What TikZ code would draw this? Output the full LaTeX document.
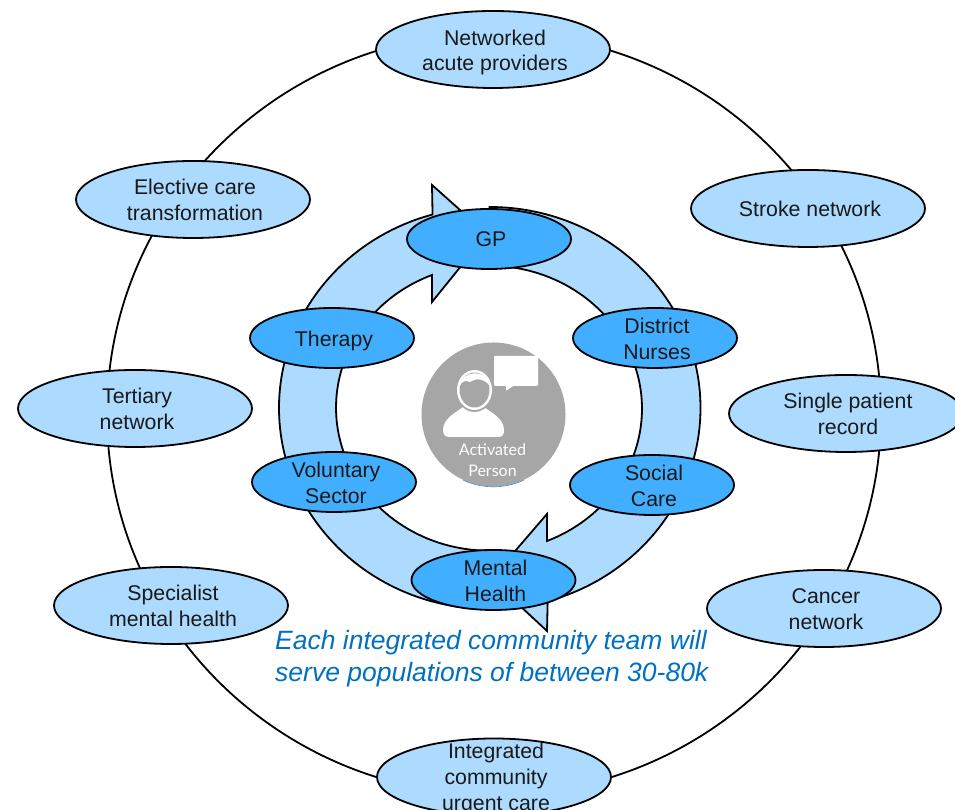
\documentclass[tikz,border=0pt]{standalone}
\usepackage{fontspec}
\setmainfont{Liberation Sans}
\newfontfamily\personfont{Lato}
\usetikzlibrary{shapes.geometric}
\definecolor{lightb}{HTML}{ADDBFF}
\definecolor{darkb}{HTML}{42AEFF}
\definecolor{greyc}{HTML}{A6A6A6}
\definecolor{capt}{HTML}{0070C0}
\tikzset{
  lab/.style={font=\fontsize{21.3}{25.7}\selectfont,align=center,text=black!90},
  outeroval/.style={ellipse,draw=black,fill=lightb,line width=1.8pt,minimum width=234pt,minimum height=77pt,inner sep=0pt},
  inneroval/.style={ellipse,draw=black,fill=darkb,line width=1.8pt,minimum width=164pt,minimum height=60pt,inner sep=0pt},
  says/.style={label={[lab,xshift=2pt,yshift=-0.7pt]center:{#1}}},
  saysdown/.style 2 args={label={[lab,xshift=2pt,yshift=#1]center:{#2}}},
  ringarrow/.style={draw=black,fill=lightb,line width=1.8pt,line join=miter},
  capttext/.style={font=\fontsize{26.5}{32}\selectfont\itshape,text=capt,align=left,anchor=west,inner sep=0pt}
}
\begin{document}
\begin{tikzpicture}[x=1pt,y=1pt]
\useasboundingbox (0,0) rectangle (955,810);
\clip (0,0) rectangle (955,810);
\fill[white] (0,0) rectangle (955,810);
% outer ring
\draw[black,line width=1.8pt] (494,396) ellipse [x radius=387,y radius=381];
% ring arrows
\draw[ringarrow] (489.5,201) arc[start angle=270,end angle=105.7,x radius=210.5,y radius=201]
  -- (432,625) -- (487,576) -- (432,508) -- (432,535)
  arc[start angle=111.9,end angle=270,x radius=153,y radius=143] -- cycle;
\draw[ringarrow] (489.5,603) arc[start angle=90,end angle=-74,x radius=211,y radius=201]
  -- (547,179) -- (491,231) -- (547,296) -- (547,269)
  arc[start angle=-67.7,end angle=90,x radius=153,y radius=143] -- cycle;
% centre
\fill[greyc] (493.5,395.5) circle[radius=72];
\draw[darkb!80!black,line width=0.6pt] (493.5,395.5) ++(245:72.3) arc[start angle=245,end angle=295,radius=72.3];
\fill[white,rounded corners=1pt] (494,424) -- (506,424) -- (506,419) -- (513,424) -- (538,424) -- (538,454) -- (494,454) -- cycle;
\fill[white] (449,373) -- (498,373) .. controls (503,373) and (504,376) .. (504,380) .. controls (504,392) and (490,398) .. (484,403) -- (463,403) .. controls (457,398) and (443,392) .. (443,380) .. controls (443,376) and (445,373) .. (449,373) -- cycle;
\fill[greyc] (474.5,420) ellipse[x radius=19,y radius=22];
\fill[white] (474.5,420) ellipse[x radius=17.5,y radius=20];
\fill[greyc] (474.5,420) ellipse[x radius=15,y radius=17.5];
\fill[white] (459.5,424) .. controls (462,440) and (487,442) .. (490,424) .. controls (484,432) and (475,432) .. (470,428) .. controls (466,430) and (462,429) .. (459.5,424) -- cycle;
\node[font=\fontsize{16}{21}\selectfont\personfont,text=white,align=center,inner sep=0pt] (person) at (492.5,350) {Activated\\Person};
% inner ovals
\node[inneroval,saysdown={0.3pt}{GP}] (gp) at (489,571) {};
\node[inneroval,saysdown={-2.7pt}{Therapy}] (therapy) at (332,472) {};
\node[inneroval,says={District\\Nurses}] (district) at (655,472) {};
\node[inneroval,says={Voluntary\\Sector}] (voluntary) at (334,328) {};
\node[inneroval,says={Social\\Care}] (social) at (652,325) {};
\node[inneroval,says={Mental\\Health}] (mental) at (493.5,230) {};
% outer ovals
\node[outeroval,saysdown={-3pt}{Networked\\acute providers}] (net) at (493,760.5) {};
\node[outeroval,says={Stroke network}] (stroke) at (808,601.5) {};
\node[outeroval,says={Single patient\\record}] (single) at (846,396.5) {};
\node[outeroval,says={Cancer\\network}] (cancer) at (824,201.5) {};
\node[outeroval,saysdown={-1.8pt}{Integrated\\community\\urgent care}] (urgent) at (494,33) {};
\node[outeroval,says={Specialist\\mental health}] (spec) at (171,204.5) {};
\node[outeroval,says={Tertiary\\network}] (tert) at (135,401.5) {};
\node[outeroval,says={Elective care\\transformation}] (elect) at (193,610.5) {};
% caption
\node[capttext] (cap1) at (275,167.5) {Each integrated community team will};
\node[capttext] (cap2) at (275,135.5) {serve populations of between 30-80k};
\end{tikzpicture}
\end{document}
